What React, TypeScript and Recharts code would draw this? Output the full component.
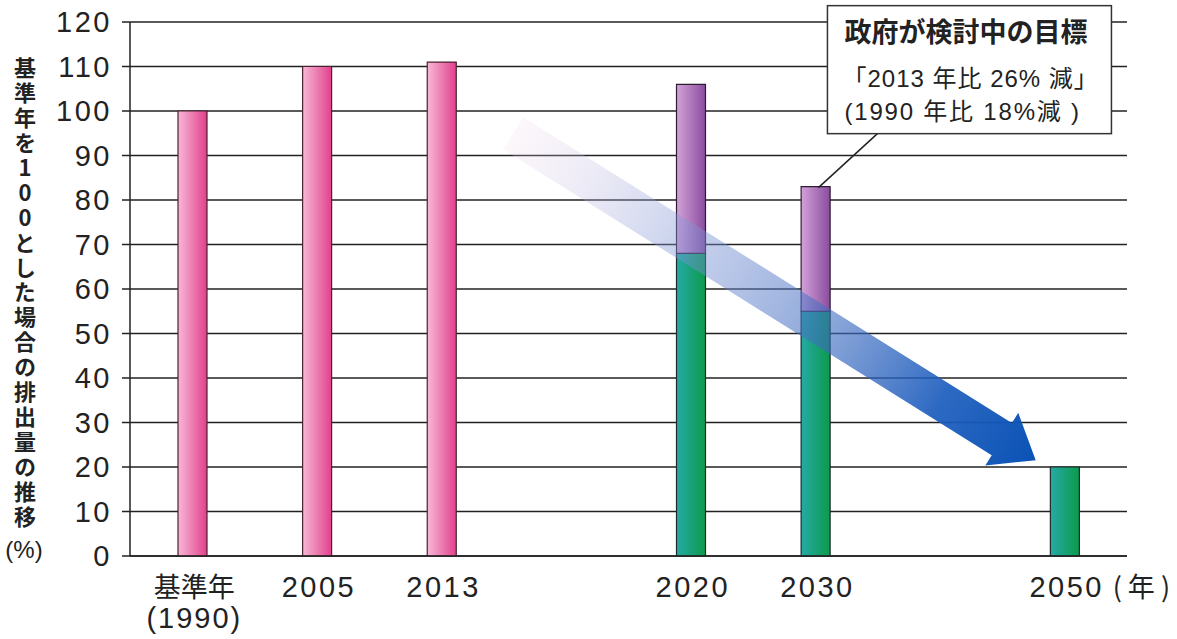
import React from 'react';
import { BarChart, Bar, XAxis, YAxis, CartesianGrid, ReferenceLine, ReferenceDot } from 'recharts';

const categories = ['基準年', '2005', '2013', 'gap1', '2020', '2030', 'gap2', '2050'];
const subLabels: { [key: string]: string } = { '基準年': '(1990)' };
const baseValues = [100, 110, 111, null, null, null, null, null];
const targetBottom = [null, null, null, null, 68, 55, null, 20];
const targetTop = [null, null, null, null, 38, 28, null, null];
const yTicks = [0, 10, 20, 30, 40, 50, 60, 70, 80, 90, 100, 110, 120];
const yLabel = '基準年を100とした場合の排出量の推移';
const yUnit = '(%)';
const yearUnit = '( 年 )';
const calloutLines = ['政府が検討中の目標', '「2013 年比 26% 減」', '(1990 年比 18%減 )'];
const calloutAt = { x: '2030', y: 83 };
const arrowFrom = { x: 'gap1', y: 95 };
const arrowTo = { x: '2050', y: 21.5 };

const data = categories.map((name, i) => ({
  name,
  base: baseValues[i],
  bottom: targetBottom[i],
  top: targetTop[i],
}));

const FONT = "'Liberation Sans', Arial, 'Noto Sans CJK JP', sans-serif";
const JP_FONT = "'Noto Sans CJK JP', 'Liberation Sans', sans-serif";

const XTick = (props: any) => {
  const { x, y, payload } = props;
  const v: string = payload.value;
  if (v.startsWith('gap')) return null;
  return (
    <g>
      <text x={x + 2} y={y + 41} textAnchor="middle" fontSize={v === '基準年' ? 27 : 29} letterSpacing={v === '基準年' ? 0 : 2.5} fill="#222" fontFamily={FONT}>
        {v}
      </text>
      {subLabels[v] && (
        <text x={x + 2} y={y + 72} textAnchor="middle" fontSize={29} letterSpacing={2} fill="#222" fontFamily={FONT}>
          {subLabels[v]}
        </text>
      )}
      {v === '2050' && (
        <text x={x + 48} y={y + 41} fontSize={27} fill="#222" fontFamily={JP_FONT}>
          {yearUnit}
        </text>
      )}
    </g>
  );
};

const YLabel = (props: any) => {
  const vb = props.viewBox || { y: 22, height: 534 };
  return (
    <g>
      <text
        x={25}
        y={vb.y + 35}
        fontSize={22}
        fontWeight="bold"
        fill="#222"
        fontFamily={JP_FONT}
        letterSpacing={2.9}
        style={{ writingMode: 'vertical-rl', textOrientation: 'upright' } as any}
      >
        {yLabel}
      </text>
      <text x={24} y={vb.y + vb.height + 2} textAnchor="middle" fontSize={24} fill="#222" fontFamily={FONT}>
        {yUnit}
      </text>
    </g>
  );
};

const TrendArrow = (props: any) => {
  const { x1, y1, x2, y2 } = props;
  if (x1 == null || x2 == null) return null;
  const tx = x1 - 53, ty = y1;
  const px = x2 - 29, py = y2;
  const len = Math.hypot(px - tx, py - ty);
  const ux = (px - tx) / len, uy = (py - ty) / len;
  const nx = -uy, ny = ux;
  const w = 19, hw = 31, hl = 40;
  const bx = px - ux * hl, by = py - uy * hl;
  const pts = [
    [tx + nx * w, ty + ny * w],
    [bx + nx * w, by + ny * w],
    [bx + nx * hw, by + ny * hw],
    [px, py],
    [bx - nx * hw, by - ny * hw],
    [bx - nx * w, by - ny * w],
    [tx - nx * w, ty - ny * w],
  ].map((p) => p.join(',')).join(' ');
  return (
    <g>
      <defs>
        <linearGradient id="arrowGrad" gradientUnits="userSpaceOnUse" x1={tx} y1={ty} x2={px} y2={py}>
          <stop offset="0" stopColor="#f3d8ea" stopOpacity={0.2} />
          <stop offset="0.3" stopColor="#8598d6" stopOpacity={0.4} />
          <stop offset="0.6" stopColor="#3f6cc0" stopOpacity={0.6} />
          <stop offset="0.82" stopColor="#1a5cbd" stopOpacity={0.92} />
          <stop offset="1" stopColor="#0a52b5" stopOpacity={1} />
        </linearGradient>
      </defs>
      <polygon points={pts} fill="url(#arrowGrad)" />
    </g>
  );
};

const Callout = (props: any) => {
  const { cx, cy } = props;
  if (cx == null) return null;
  const rx = cx + 12, ry = cy - 181;
  return (
    <g>
      <line x1={cx + 3} y1={cy + 1} x2={cx + 62} y2={cy - 53} stroke="#222" strokeWidth={1.5} />
      <rect x={rx} y={ry} width={284} height={128} fill="#fff" stroke="#333" strokeWidth={1.5} />
      <text x={rx + 17} y={ry + 36} fontSize={27} fontWeight="bold" fill="#222" fontFamily={JP_FONT}>
        {calloutLines[0]}
      </text>
      <text x={rx + 15} y={ry + 81} fontSize={24} letterSpacing={1} fill="#222" fontFamily={FONT}>
        {calloutLines[1]}
      </text>
      <text x={rx + 17} y={ry + 114} fontSize={24} letterSpacing={1.8} fill="#222" fontFamily={FONT}>
        {calloutLines[2]}
      </text>
    </g>
  );
};

const App: React.FC = () => (
  <div style={{ position: 'absolute', left: 0, top: 0, background: '#fff' }}>
    <BarChart width={1177} height={639} data={data} margin={{ top: 22, right: 50, bottom: 0, left: 0 }} barSize={29}>
      <defs>
        <linearGradient id="pinkGrad" x1="0" y1="0" x2="1" y2="0">
          <stop offset="0" stopColor="#f7b8d6" />
          <stop offset="1" stopColor="#e2408c" />
        </linearGradient>
        <linearGradient id="purpleGrad" x1="0" y1="0" x2="1" y2="0">
          <stop offset="0" stopColor="#d3a2d8" />
          <stop offset="1" stopColor="#8a4c9e" />
        </linearGradient>
        <linearGradient id="greenGrad" x1="0" y1="0" x2="1" y2="0">
          <stop offset="0" stopColor="#25aaa6" />
          <stop offset="1" stopColor="#0c9a4c" />
        </linearGradient>
      </defs>
      <CartesianGrid vertical={false} stroke="#222" strokeWidth={1.5} />
      <XAxis
        dataKey="name"
        height={83}
        tickLine={false}
        tickSize={0}
        tickMargin={0}
        axisLine={{ stroke: '#222', strokeWidth: 1.5 }}
        tick={<XTick />}
        interval={0}
      />
      <YAxis
        width={130}
        domain={[0, 120]}
        ticks={yTicks}
        interval={0}
        tickSize={8}
        tickMargin={10}
        axisLine={{ stroke: '#222', strokeWidth: 1.5 }}
        tickLine={{ stroke: '#222', strokeWidth: 1.5 }}
        tick={{ fontSize: 29, fill: '#222', fontFamily: FONT, letterSpacing: 2.5 }}
        label={<YLabel />}
      />
      <Bar dataKey="base" stackId="a" fill="url(#pinkGrad)" stroke="#4a2030" strokeWidth={1.2} isAnimationActive={false} />
      <Bar dataKey="bottom" stackId="a" fill="url(#greenGrad)" stroke="#1e2a28" strokeWidth={1.2} isAnimationActive={false} />
      <Bar dataKey="top" stackId="a" fill="url(#purpleGrad)" stroke="#2e1c34" strokeWidth={1.2} isAnimationActive={false} />
      <ReferenceLine segment={[arrowFrom, arrowTo]} shape={<TrendArrow />} ifOverflow="visible" />
      <ReferenceDot x={calloutAt.x} y={calloutAt.y} shape={<Callout />} ifOverflow="visible" />
    </BarChart>
  </div>
);

export default App;
